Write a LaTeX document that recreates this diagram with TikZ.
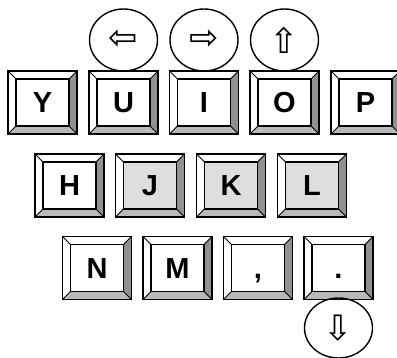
\documentclass[tikz,border=0pt]{standalone}
\usepackage{fontspec}
\setmainfont{Liberation Sans}
\newfontfamily\arrowfont{DejaVu Sans}
\usetikzlibrary{shapes.geometric}
\definecolor{bevdark}{RGB}{145,145,145}
\definecolor{bevlight}{RGB}{185,185,185}
\definecolor{facegray}{RGB}{222,222,222}
\tikzset{
  keyouter/.style={draw=black, line width=1.8pt, minimum width=69pt, minimum height=63pt, inner sep=0pt},
  keyface/.style={draw=black, line width=1.8pt, minimum width=53pt, minimum height=47pt, inner sep=0pt,
    text height=20.5pt, text depth=0pt,
    font=\fontsize{29}{32}\selectfont\bfseries},
  bevline/.style={line width=0.9pt},
  arrowcirc/.style={draw=black, line width=1.4pt, ellipse, minimum width=68pt, minimum height=62pt, inner sep=0pt,
    font=\arrowfont\fontsize{35}{38}\selectfont},
}
% name, x, y, label, face colour
\newcommand\kbkey[5]{%
  \begin{scope}[shift={(#2,#3)}]
    \fill[white] (-34.5,-31.5) -- (34.5,-31.5) -- (26.5,-23.5) -- (-26.5,-23.5) -- cycle;
    \fill[white] (-34.5,-31.5) -- (-26.5,-23.5) -- (-26.5,23.5) -- (-34.5,31.5) -- cycle;
    \fill[bevdark] (34.5,-31.5) -- (34.5,31.5) -- (26.5,23.5) -- (26.5,-23.5) -- cycle;
    \fill[bevlight] (-34.5,31.5) -- (34.5,31.5) -- (26.5,23.5) -- (-26.5,23.5) -- cycle;
    \draw[bevline] (-34.5,-31.5) -- (-26.5,-23.5) (34.5,-31.5) -- (26.5,-23.5)
      (-34.5,31.5) -- (-26.5,23.5) (34.5,31.5) -- (26.5,23.5);
    \node[keyface, fill=#5] (#1face) at (0,0) {#4};
    \node[keyouter] (#1) at (0,0) {};
  \end{scope}}
\begin{document}
\begin{tikzpicture}[x=1pt, y=-1pt]
\useasboundingbox (0,0) rectangle (397,358);
% row 1
\kbkey{kY}{42.5}{102.5}{Y}{white}
\kbkey{kU}{123.5}{102.5}{U}{white}
\kbkey{kI}{204}{102.5}{I}{white}
\kbkey{kO}{284.5}{102.5}{O}{white}
\kbkey{kP}{365.5}{102.5}{P}{white}
% row 2
\kbkey{kH}{69.5}{185.5}{H}{white}
\kbkey{kJ}{150}{185.5}{J}{facegray}
\kbkey{kK}{231}{185.5}{K}{facegray}
\kbkey{kL}{312}{185.5}{L}{facegray}
% row 3
\kbkey{kN}{97}{268}{N}{white}
\kbkey{kM}{177.5}{268}{M}{white}
\kbkey{kComma}{258}{268}{,}{white}
\kbkey{kDot}{338.5}{268}{.}{white}
% arrow circles
\node[arrowcirc] (aLeft) at (123.5,40) {⇦};
\node[arrowcirc] (aRight) at (204,40) {⇨};
\node[arrowcirc] (aUp) at (284.5,40) {⇧};
\node[arrowcirc, minimum height=60pt] (aDown) at (338.5,328) {⇩};
\end{tikzpicture}
\end{document}
